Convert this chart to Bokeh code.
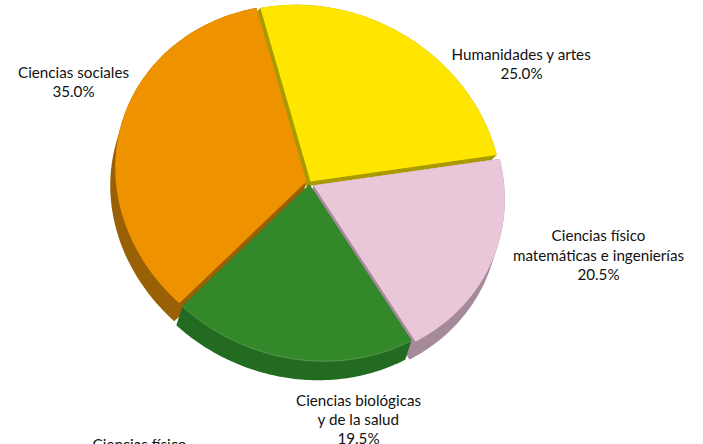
import numpy as np
from bokeh.plotting import figure
from bokeh.embed import file_html
from bokeh.resources import INLINE
from bokeh.core.properties import value

categories = ["Humanidades y artes", "Ciencias físico matemáticas e ingenierías",
              "Ciencias biológicas y de la salud", "Ciencias sociales"]
shares = [25.0, 20.5, 19.5, 35.0]
top_colors = ["#ffe600", "#eac7d8", "#33892a", "#ee9200"]
side_colors = ["#a89a00", "#a58a9a", "#226b20", "#9a6005"]

W, H = 703, 444
p = figure(width=W, height=H, x_range=(0, W), y_range=(H, 0),
           output_backend="svg", toolbar_location=None, min_border=0,
           outline_line_color=None, x_axis_location=None, y_axis_location=None)
p.grid.visible = False
p.background_fill_color = "white"
p.border_fill_color = "white"

RX, RY = 192, 175
START = -15.5
tips = [(310, 181), (313, 185), (309, 184), (306, 181)]
depths = [(-5, 5), (-6, 18), (-6, 19), (-5, 18)]


def warp(t):
    return t + 3.7 + 3.0 * np.cos(np.radians(2 * (t - 70)))


def tilt(t):
    return 1 + 0.04 * np.cos(np.radians(2 * (t - 140)))


def hull(pts):
    pts = sorted(set(pts))
    def half(seq):
        out = []
        for q in seq:
            while len(out) > 1 and ((out[-1][0]-out[-2][0])*(q[1]-out[-2][1]) -
                                    (out[-1][1]-out[-2][1])*(q[0]-out[-2][0])) <= 0:
                out.pop()
            out.append(q)
        return out[:-1]
    return half(pts) + half(pts[::-1])


edges = START + np.concatenate([[0], np.cumsum(shares)]) * 3.6
shapes = []
for i, s in enumerate(shares):
    a = np.array([warp(t) for t in np.linspace(edges[i], edges[i + 1], 80)])
    r = tilt(a)
    tx, ty = tips[i]
    xs = [tx] + list(tx + RX * r * np.sin(np.radians(a)))
    ys = [ty] + list(ty - RY * r * np.cos(np.radians(a)))
    shapes.append((xs, ys))


def draw_side(i):
    xs, ys = shapes[i]
    dx, dy = depths[i]
    pts = [(float(x), float(y)) for x, y in zip(xs, ys)]
    pts += [(x + dx, y + dy) for x, y in pts]
    h = hull(pts)
    p.patch([q[0] for q in h], [q[1] for q in h], fill_color=side_colors[i], line_color=None)


def draw_top(i):
    p.patch(shapes[i][0], shapes[i][1], fill_color=top_colors[i], line_color=None)


for i in (3, 0):
    draw_side(i)
draw_top(3)
draw_top(0)
draw_side(1)
draw_side(2)
draw_top(1)
draw_top(2)
p.line(shapes[2][0][1:], shapes[2][1][1:], line_color="#78a86c", line_width=0.6)

labels = [
    (73, 71, "Ciencias sociales"), (73, 90, "35.0%"),
    (521, 53, "Humanidades y artes"), (521, 72, "25.0%"),
    (598, 234, "Ciencias físico"), (598, 254, "matemáticas e ingenierías"), (598, 273, "20.5%"),
    (358, 399, "Ciencias biológicas"), (358, 418, "y de la salud"), (358, 437, "19.5%"),
    (139, 443, "Ciencias físico"),
]
p.text([l[0] for l in labels], [l[1] for l in labels], text=[l[2] for l in labels],
       text_align="center", text_baseline="middle", text_font=value("Lato"),
       text_font_size="15.2px", text_color="#111111")

open("out.html", "w").write(file_html(p, INLINE))
